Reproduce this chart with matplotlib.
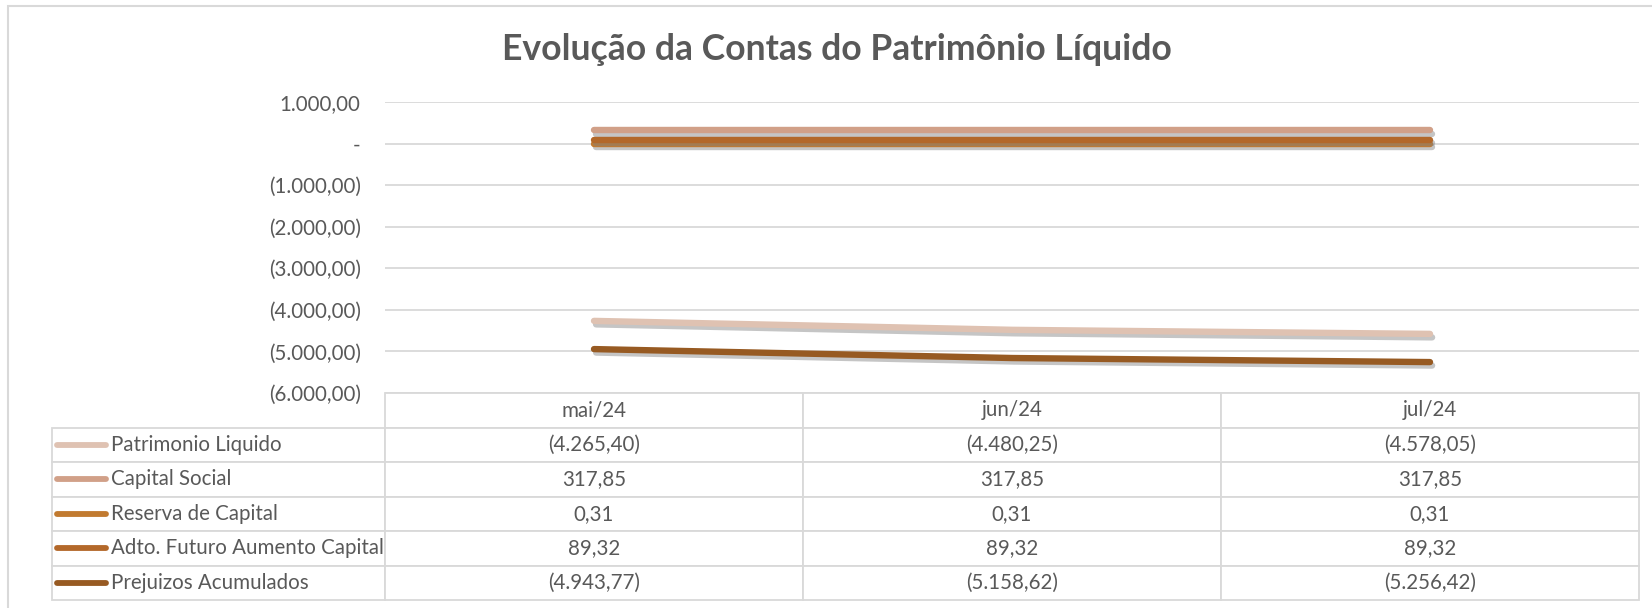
import matplotlib
matplotlib.use("Agg")
import matplotlib.pyplot as plt
import matplotlib.patheffects as pe
from matplotlib.lines import Line2D
from matplotlib.patches import Rectangle
from matplotlib.ticker import FuncFormatter

plt.rcParams["font.family"] = ["Lato", "DejaVu Sans"]

# Data
months = ["mai/24", "jun/24", "jul/24"]
series_names = ["Patrimonio Liquido", "Capital Social", "Reserva de Capital",
                "Adto. Futuro Aumento Capital", "Prejuizos Acumulados"]
patrimonio_liquido = [-4265.40, -4480.25, -4578.05]
capital_social = [317.85, 317.85, 317.85]
reserva_capital = [0.31, 0.31, 0.31]
adto_futuro = [89.32, 89.32, 89.32]
prejuizos = [-4943.77, -5158.62, -5256.42]
series_values = [patrimonio_liquido, capital_social, reserva_capital, adto_futuro, prejuizos]
colors = ["#DFC2B2", "#D1A088", "#C17A30", "#B3682A", "#975A22"]

text_color = "#595959"
grid_color = "#D9D9D9"


def br(v):
    s = f"{abs(v):,.2f}".replace(",", "X").replace(".", ",").replace("X", ".")
    return f"({s})" if v < 0 else s


def tick_fmt(v, pos):
    if abs(v) < 1e-9:
        return "-"
    return br(v)


fig = plt.figure(figsize=(16.52, 6.08), dpi=100, facecolor="white")

# outer chart frame (only left and top visible)
fig.add_artist(Rectangle((8 / 1652, -0.05), 1.2, (1 - 6 / 608) + 0.05,
                         transform=fig.transFigure, fill=False,
                         ec=grid_color, lw=1.5))

ax = fig.add_axes([385 / 1652, 1 - 393 / 608, 1254 / 1652, 291 / 608])
ax.set_xlim(-0.5, len(months) - 0.5)
ax.set_ylim(-6000, 1000)
ax.set_yticks(range(-6000, 1001, 1000))
ax.yaxis.set_major_formatter(FuncFormatter(tick_fmt))
ax.set_xticks([])
ax.tick_params(axis="y", length=0, pad=17.5, labelsize=14.8, labelcolor=text_color)
for s in ax.spines.values():
    s.set_visible(False)
ax.grid(axis="y", color=grid_color, lw=1.3)
ax.set_axisbelow(True)

shadow = [pe.SimpleLineShadow(offset=(1.5, -2.5), shadow_color="#7f7f7f", alpha=0.45),
          pe.Normal()]
x = list(range(len(months)))
for name, vals, c in zip(series_names, series_values, colors):
    ax.plot(x, vals, color=c, lw=4.6, solid_capstyle="round",
            path_effects=shadow, label=name, zorder=3)

# data table below the plot, series names as first column
cell_text = [[name] + [br(v) for v in vals] for name, vals in zip(series_names, series_values)]
tbl = ax.table(cellText=cell_text, colLabels=[""] + months,
               colWidths=[333, 418, 418, 418], cellLoc="center", colLoc="center",
               bbox=[-333 / 1254, -207 / 291, 1587 / 1254, 207 / 291])
tbl.auto_set_font_size(False)
tbl.set_fontsize(14.8)
for (r, c), cell in tbl.get_celld().items():
    cell.set_edgecolor(grid_color)
    cell.set_linewidth(1.3)
    cell.get_text().set_color(text_color)
    if c == 0:
        cell.get_text().set_ha("left")
        cell.PAD = (111 - 52) / 333
        if r == 0:
            cell.visible_edges = ""

# legend keys inside the series-name cells
n_rows = len(series_names) + 1
row_h = (207 / 291) / n_rows
for i, c in enumerate(colors):
    yc = -row_h * (i + 1.5)
    ax.add_line(Line2D([(57 - 385) / 1254, (106 - 385) / 1254], [yc, yc],
                       transform=ax.transAxes, color=c, lw=4.2,
                       solid_capstyle="round", clip_on=False))

fig.text(837 / 1652, 1 - 50 / 608, "Evolução da Contas do Patrimônio Líquido",
         ha="center", va="center", fontsize=25.6, fontweight="bold", color=text_color)

fig.savefig("out.png", dpi=100, facecolor="white")
